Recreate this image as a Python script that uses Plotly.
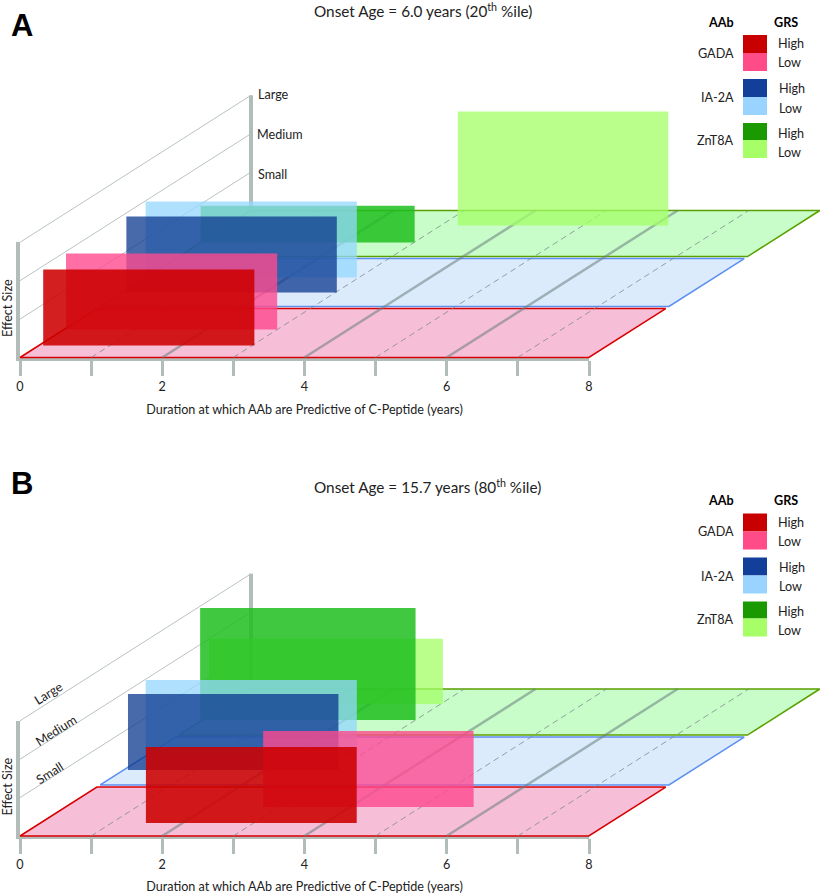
import plotly.graph_objects as go

W, H = 821, 894
PX_YEAR = 71.1
PX_EFFECT = 38.4
SKEW_X = 231 / PX_YEAR
SKEW_Y = 147 / PX_EFFECT

aab_names = ["ZnT8A", "ZnT8A", "IA-2A", "IA-2A", "GADA", "GADA"]
grs_levels = ["Low", "High", "Low", "High", "Low", "High"]
bar_colors = ["rgba(163,255,101,0.75)", "rgba(30,190,30,0.85)", "rgba(148,215,255,0.75)",
              "rgba(11,55,141,0.75)", "rgba(255,74,142,0.8)", "rgba(205,0,0,0.88)"]

# panel A
a_depth = [0.898, 0.782, 0.544, 0.442, 0.19, 0.082]
a_start = [3.24, 0.0, 0.0, 0.06, 0.03, 0.06]
a_end = [6.2, 3.01, 2.97, 3.02, 3.0, 3.03]
a_effect = [2.97, 0.96, 1.98, 1.98, 1.98, 1.98]
# panel B
b_depth = [0.898, 0.789, 0.544, 0.449, 0.197, 0.088]
b_start = [-0.26, -0.03, 0.0, 0.06, 2.78, 1.485]
b_end = [3.03, 3.0, 2.97, 3.02, 5.74, 4.45]
b_effect = [1.70, 2.92, 1.98, 1.98, 1.98, 1.98]

plane_names = ["ZnT8A", "IA-2A", "GADA"]
plane_near = [0.687, 0.347, 0.0]
plane_far = [1.0, 0.673, 0.333]
plane_fill = ["rgb(200,252,200)", "rgb(220,235,252)", "rgb(246,190,215)"]
plane_line = ["#5aa000", "#5b8ff0", "#d80000"]

major_years = [0, 2, 4, 6, 8]
minor_years = [1, 3, 5, 7]
grid_solid = [2, 4, 6]
effect_levels = [1, 2, 3]
effect_names = ["Small", "Medium", "Large"]

GREY = "#b2bdba"
FONT = "Lato"
TS = 12.6
INK = "#222222"
OFFSET_B = 478.5


def proj(dur, eff, depth):
    return dur + depth * SKEW_X, eff + depth * SKEW_Y


def poly(points, xa, ya, fill=None, line=None, width=1, dash=None, name=""):
    xs = [proj(*p)[0] for p in points]
    ys = [proj(*p)[1] for p in points]
    return go.Scatter(
        x=xs, y=ys, xaxis=xa, yaxis=ya, mode="lines", name=name,
        fill="toself" if fill else None, fillcolor=fill,
        line=dict(color=line or "rgba(0,0,0,0)", width=width if line else 0, dash=dash),
        hoverinfo="skip", showlegend=False,
    )


fig = go.Figure()


def panel(xa, ya, xm, ym, depth, start, end, effect):
    # real axes get a placeholder trace so they are drawn
    fig.add_trace(go.Scatter(x=[0, 8], y=[0, 3], xaxis=xa, yaxis=ya, mode="lines",
                             line=dict(width=0, color="rgba(0,0,0,0)"), hoverinfo="skip", showlegend=False))
    # back wall
    for lv in effect_levels:
        fig.add_trace(poly([(0, lv, 0), (0, lv, 1)], xm, ym, line="#b9c4c1", width=1))
    fig.add_trace(poly([(0, 0, 1), (0, 3, 1)], xm, ym, line=GREY, width=4))
    # floor
    for n, near, far, f, l in zip(plane_names, plane_near, plane_far, plane_fill, plane_line):
        fig.add_trace(poly([(0, 0, near), (8, 0, near), (8, 0, far), (0, 0, far), (0, 0, near)],
                           xm, ym, fill=f, line=l, width=1.5, name=n))
    # floor grid
    for y in grid_solid:
        fig.add_trace(poly([(y, 0, 0), (y, 0, 1)], xm, ym, line="rgba(105,125,125,0.55)", width=2.5))
    for y in minor_years:
        fig.add_trace(poly([(y, 0, 0), (y, 0, 1)], xm, ym, line="rgba(120,135,135,0.75)", width=1, dash="6px,4px"))
    # effect rectangles
    for n, g, c, d, s, e, h in zip(aab_names, grs_levels, bar_colors, depth, start, end, effect):
        fig.add_trace(poly([(s, 0, d), (e, 0, d), (e, h, d), (s, h, d), (s, 0, d)],
                           xm, ym, fill=c, name=f"{n} {g}"))


panel("x", "y", "x3", "y3", a_depth, a_start, a_end, a_effect)
panel("x2", "y2", "x4", "y4", b_depth, b_start, b_end, b_effect)


def px(x):
    return x / W


def py(y):
    return 1 - y / H


def label(x, y, text, size=TS, anchor="left", bold=False, angle=0, family=FONT, color=INK):
    fig.add_annotation(
        x=px(x), y=py(y), xref="paper", yref="paper", text=f"<b>{text}</b>" if bold else text,
        showarrow=False, xanchor=anchor, yanchor="middle", textangle=angle, borderpad=0,
        font=dict(family=family, size=size, color=color),
    )


legend_rows = [("GADA", ["#c80000", "#ff4b87"], 35, 53, 71, 53, 44, 63, 777),
               ("IA-2A", ["#123f9a", "#99d3ff"], 79, 97, 115, 98, 89, 108, 778),
               ("ZnT8A", ["#1a9900", "#a6ff66"], 123, 140, 158, 141, 133, 152, 777)]

for off in (0, OFFSET_B):
    label(735, 22 + off, "AAb", anchor="right", bold=True, color="#000000")
    label(786, 22 + off, "GRS", anchor="center", bold=True, color="#000000")
    label(7, 308 + off, "Effect Size", anchor="center", angle=-90)
    for name, cols, y0, y1, y2, yt, yh, yl, xt in legend_rows:
        label(735, yt + off, name, anchor="right")
        label(xt, yh + off, "High")
        label(xt, yl + off, "Low")
        for c, a, b in ((cols[0], y0, y1), (cols[1], y1, y2)):
            fig.add_shape(type="rect", xref="paper", yref="paper", x0=px(743), x1=px(767),
                          y0=py(a + off), y1=py(b + off), fillcolor=c, line_width=0, layer="above")

label(10, 26, "A", size=31, bold=True, family="Liberation Sans", color="#000000")
label(10, 483, "B", size=31, bold=True, family="Liberation Sans", color="#000000")
label(313, 10, "Onset Age = 6.0 years (20<sup>th</sup> %ile)", size=15.3)
label(313, 486, "Onset Age = 15.7 years (80<sup>th</sup> %ile)", size=15.3)
label(257, 94, effect_names[2])
label(256, 134, effect_names[1])
label(257, 174, effect_names[0])
label(48, 693, effect_names[2], anchor="center", angle=-32)
label(56, 730, effect_names[1], anchor="center", angle=-32)
label(49, 773, effect_names[0], anchor="center", angle=-32)

xax = dict(range=[0, 8], domain=[px(20), px(589)], tickmode="array", tickvals=major_years,
           ticks="outside", ticklen=15, tickwidth=3, tickcolor=GREY,
           minor=dict(tickmode="array", tickvals=minor_years, ticks="outside", ticklen=15, tickwidth=3, tickcolor=GREY, showgrid=False),
           showline=True, linecolor=GREY, linewidth=3,
           showgrid=False, zeroline=False, tickfont=dict(family=FONT, size=TS, color=INK),
           title=dict(text="Duration at which AAb are Predictive of C-Peptide (years)",
                      font=dict(family=FONT, size=TS, color=INK), standoff=13))
yax = dict(range=[0, 3], showticklabels=False, ticks="", showline=True, linecolor=GREY, linewidth=4,
           showgrid=False, zeroline=False)
# hidden axes that carry the marks: same px-per-unit scale, wider extent
hx = dict(range=[-20 / PX_YEAR, 801 / PX_YEAR], domain=[0, 1], visible=False, fixedrange=True)
hy = dict(visible=False, fixedrange=True)
top_a, bot_a = 85, 372
eff_range = [(357.5 - bot_a) / PX_EFFECT, (357.5 - top_a) / PX_EFFECT]

fig.update_layout(
    width=W, height=H, autosize=False,
    margin=dict(l=0, r=0, t=0, b=0, pad=0, autoexpand=False),
    paper_bgcolor="white", plot_bgcolor="rgba(0,0,0,0)",
    xaxis=dict(xax, anchor="y"), yaxis=dict(yax, anchor="x", domain=[py(357.5), py(357.5 - 3 * PX_EFFECT)]),
    xaxis2=dict(xax, anchor="y2"), yaxis2=dict(yax, anchor="x2", domain=[py(357.5 + OFFSET_B), py(357.5 + OFFSET_B - 3 * PX_EFFECT)]),
    xaxis3=dict(hx, anchor="y3"), yaxis3=dict(hy, range=eff_range, anchor="x3", domain=[py(bot_a), py(top_a)]),
    xaxis4=dict(hx, anchor="y4"), yaxis4=dict(hy, range=eff_range, anchor="x4", domain=[py(bot_a + OFFSET_B), py(top_a + OFFSET_B)]),
    showlegend=False,
)

fig.write_html("out.html", config={"displayModeBar": False},
               post_script="document.body.style.margin='0';")
